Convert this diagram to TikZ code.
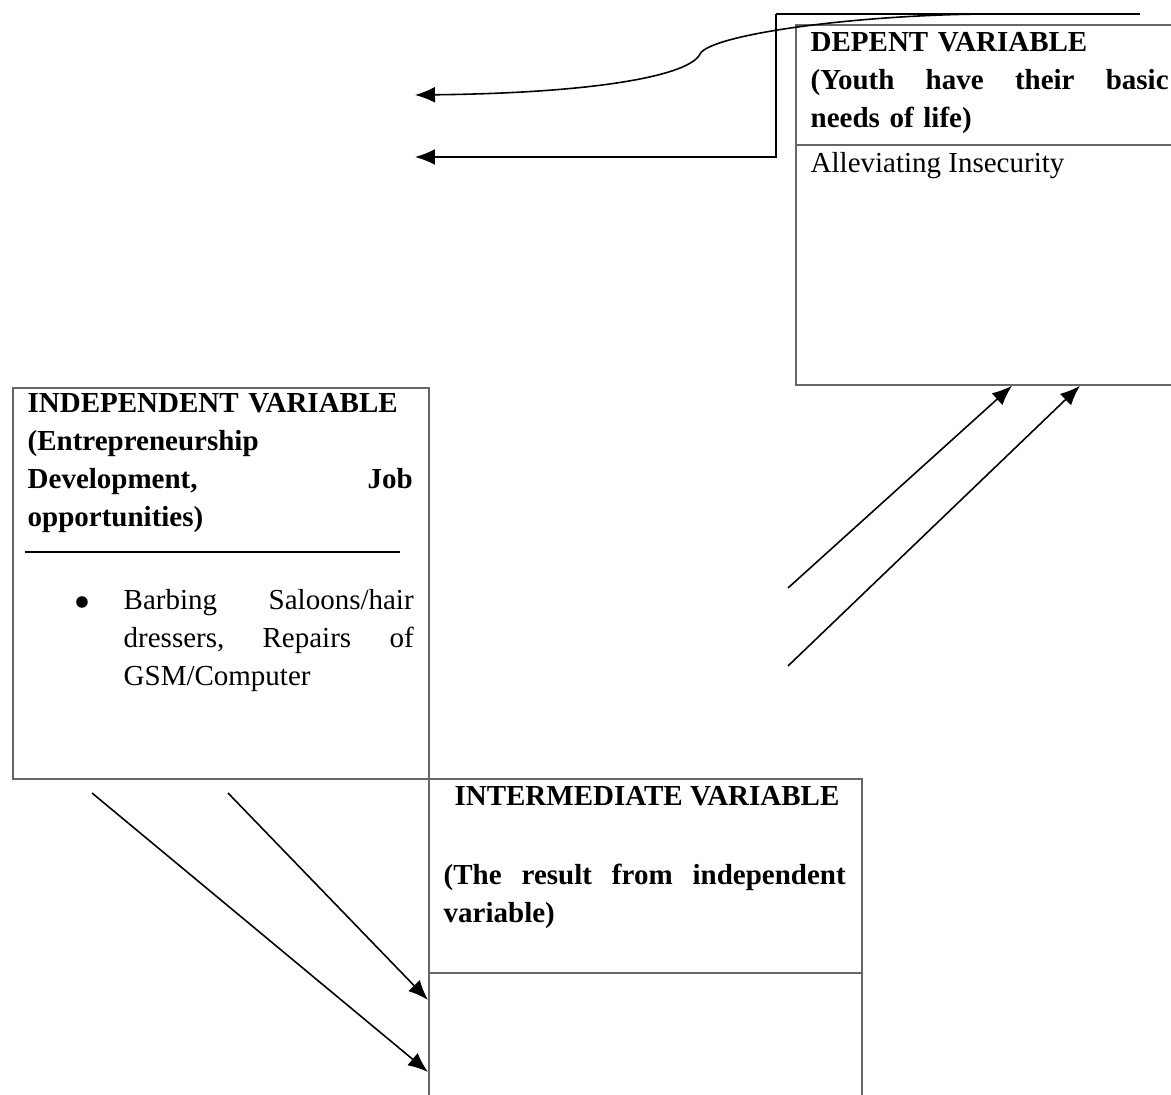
\documentclass[tikz,border=0pt]{standalone}
\usepackage{fontspec}
\setmainfont{Liberation Serif}
\usetikzlibrary{positioning,calc,arrows.meta}
\newcommand{\jline}[2]{\leavevmode\hbox to #1{#2}}

\begin{document}
\begin{tikzpicture}[x=1mm,y=-1mm]
\tikzset{varbox/.style={draw=black!60,line width=0.5pt,anchor=north west,inner sep=0pt}, txt/.style={anchor=base west,inner sep=0pt,align=left,font=\fontsize{8.25}{10.8}\selectfont}, arr/.style={-{Latex[length=2mm,width=1.6mm]},line width=0.45pt}};
   \useasboundingbox (0,0) rectangle (117.1,109.5);

   % the three variable boxes
   \node[varbox,minimum width=38.5mm,minimum height=36mm] at (79.5,2.4) (dep) {};
   \node[varbox,minimum width=41.6mm,minimum height=39.1mm] at (1.2,38.7) (indep) {};
   \node[varbox,minimum width=43.3mm,minimum height=35mm] at (42.8,77.8) (inter) {};
   \draw[draw=black!60,line width=0.5pt] ($(dep.north west)+(0,12.1)$) -- ($(dep.north east)+(0,12.1)$);
   \draw[draw=black!60,line width=0.5pt] ($(inter.north west)+(0,19.5)$) -- ($(inter.north east)+(0,19.5)$);

   \node[txt,text width=35.8mm] at (81.0,5.2) (deptitle) {\bfseries DEPENT VARIABLE\\\jline{35.8mm}{(Youth\hfill have\hfill their\hfill basic}\\needs of life)};
   \node[txt] at (81.0,17.3) (depitem) {Alleviating Insecurity};

   \node[txt,text width=38.5mm] at (2.7,41.3) (indeptitle) {\bfseries INDEPENDENT VARIABLE\\(Entrepreneurship\\\jline{38.5mm}{Development,\hfill Job}\\opportunities)};
   \draw[line width=0.6pt] (2.5,55.2) -- (40.0,55.2);
   \node[txt] at (7.4,61.0) (dot) {$\bullet$};
   \node[txt,text width=29mm] at (12.3,61.0) (indepitem) {\jline{29mm}{Barbing\hfill Saloons/hair}\\\jline{29mm}{dressers,\hfill Repairs\hfill of}\\GSM/Computer};

   \node[txt,anchor=base] at (64.7,80.6) (intertitle) {\bfseries INTERMEDIATE VARIABLE};
   \node[txt,text width=40.2mm] at (44.3,88.5) (intertext) {\bfseries\jline{40.2mm}{(The\hfill result\hfill from\hfill independent}\\variable)};

   % connectors
   \coordinate (topend) at (114.0,1.4);
   \coordinate (corner1) at (77.6,1.4);
   \coordinate (corner2) at (77.6,15.7);
   \coordinate (outA) at (41.5,15.7);
   \coordinate (outB) at (41.5,9.5);
   \coordinate (curvestart) at (98.7,1.4);
   \coordinate (shoulder) at (70.0,5.4);
   \draw[line width=0.45pt] (topend) -- (corner1);
   \draw[arr] (corner1) -- (corner2) -- (outA);
   \draw[arr] (curvestart) .. controls (85,1.5) and (71,3.5) .. (shoulder) .. controls (69,7.5) and (60,9.3) .. (outB);

   \coordinate (upA) at (78.8,58.8);
   \coordinate (upB) at (78.8,66.6);
   \draw[arr] (upA) -- ($(dep.south west)+(21.7,0)$);
   \draw[arr] (upB) -- ($(dep.south west)+(28.5,0)$);

   \coordinate (downA) at (9.2,79.3);
   \coordinate (downB) at (22.8,79.3);
   \draw[arr] (downA) -- ($(inter.north west)+(0,29.4)$);
   \draw[arr] (downB) -- ($(inter.north west)+(0,22.2)$);
%   \draw[arr] (indep) -- (inter);
\end{tikzpicture}
\end{document}
